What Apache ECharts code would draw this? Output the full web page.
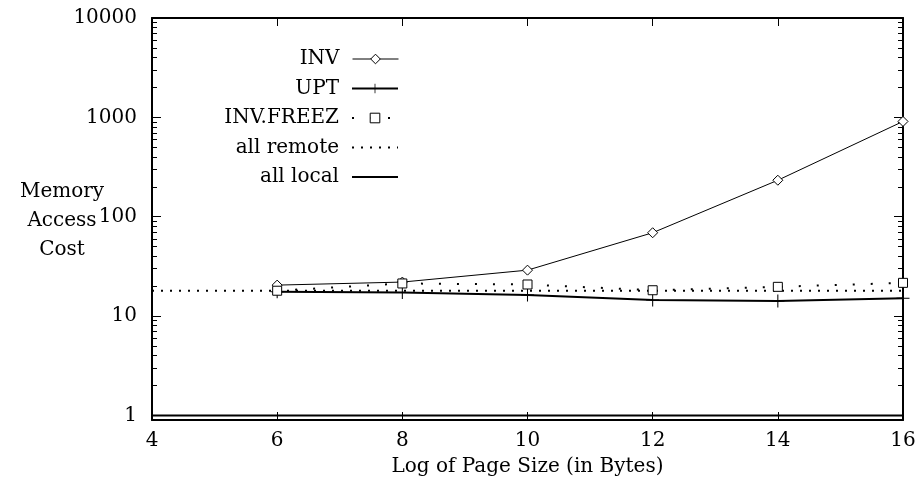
<!DOCTYPE html>
<html>
<head>
<meta charset="utf-8">
<script src="https://cdn.jsdelivr.net/npm/echarts@6/dist/echarts.min.js"></script>
<style>
  html, body { margin: 0; padding: 0; background: #fff; }
  #chart { width: 920px; height: 497px; }
</style>
</head>
<body>
<div id="chart"></div>
<script>
// Page size (log2 bytes) on x, memory access cost on a log y axis
const pageSizes = [6, 8, 10, 12, 14, 16];
const invCost = [20.5, 22, 29, 69, 233, 910];
const uptCost = [17.6, 17.3, 16.3, 14.5, 14.2, 15.1];
const freezCost = [18, 21.3, 20.8, 18.2, 19.7, 21.6];

// reference lines span the whole x range
const refX = [4, 16];
const allRemote = [18, 18];
const allLocal = [1, 1];

const yMajor = [1, 10, 100, 1000, 10000];
const yMinor = [];
for (const decade of [1, 10, 100, 1000]) {
  for (let m = 2; m <= 9; m++) yMinor.push(m * decade);
}

const FONT = "DejaVu Serif";
const black = "#000";

const pair = (xs, ys) => xs.map((x, i) => [x, ys[i]]);

const plusPath = "path://M-0.08,-1h0.16v2h-0.16z M-1,-0.08h2v0.16h-2z";

const seriesNames = ["INV", "UPT", "INV.FREEZ", "all remote", "all local"];
const noMarker = ["all remote", "all local"];

// one legend per row so the icons line up while labels are right-aligned
const legendRows = seriesNames.map((name, i) => ({
  data: [noMarker.includes(name) ? { name, itemStyle: { opacity: 0 } } : name],
  right: 516,
  top: 44 + i * 29.5,
  align: "right",
  itemWidth: 46,
  itemHeight: 12,
  selectedMode: false,
  lineStyle: { width: name === "INV" ? 1 : 2 },
  itemStyle: { borderWidth: 1 },
  textStyle: { fontFamily: FONT, fontSize: 20, color: black, padding: [0, 8, 0, 0] },
}));

const yBase = {
  type: "log",
  min: 0.9,
  max: 10000,
  splitLine: { show: false },
  minorTick: { show: false },
};

const option = {
  animation: false,
  backgroundColor: "#fff",
  grid: { left: 152, right: 17, top: 18, bottom: 77 },
  legend: legendRows,
  xAxis: [
    {
      type: "value",
      min: 4,
      max: 16,
      interval: 2,
      name: "Log of Page Size (in Bytes)",
      nameLocation: "middle",
      nameGap: 37,
      nameTextStyle: { fontFamily: FONT, fontSize: 20, color: black },
      axisLine: { lineStyle: { color: black, width: 2 } },
      axisTick: { inside: true, length: 8, lineStyle: { color: black } },
      axisLabel: { fontFamily: FONT, fontSize: 20, color: black, margin: 11 },
      splitLine: { show: false },
    },
    {
      type: "value",
      position: "top",
      min: 4,
      max: 16,
      interval: 2,
      axisLine: { lineStyle: { color: black, width: 2 } },
      axisTick: { inside: true, length: 8, lineStyle: { color: black } },
      axisLabel: { show: false },
      splitLine: { show: false },
    },
  ],
  yAxis: [
    {
      ...yBase,
      position: "left",
      axisLine: { show: true, lineStyle: { color: black, width: 2 } },
      axisTick: { inside: true, length: 9, customValues: yMajor, lineStyle: { color: black } },
      axisLabel: {
        customValues: yMajor,
        fontFamily: FONT,
        fontSize: 20,
        color: black,
        margin: 15,
        formatter: (v) => String(Math.round(v)),
      },
    },
    {
      ...yBase,
      position: "left",
      axisLine: { show: false },
      axisTick: { inside: true, length: 5, customValues: yMinor, lineStyle: { color: black } },
      axisLabel: { show: false },
    },
    {
      ...yBase,
      position: "right",
      axisLine: { show: true, lineStyle: { color: black, width: 2 } },
      axisTick: { inside: true, length: 9, customValues: yMajor, lineStyle: { color: black } },
      axisLabel: { show: false },
    },
    {
      ...yBase,
      position: "right",
      axisLine: { show: false },
      axisTick: { inside: true, length: 5, customValues: yMinor, lineStyle: { color: black } },
      axisLabel: { show: false },
    },
  ],
  graphic: [
    {
      type: "text",
      x: 62,
      y: 221,
      style: {
        text: "Memory\nAccess\nCost",
        fontFamily: FONT,
        fontSize: 20,
        lineHeight: 29,
        fill: black,
        align: "center",
        verticalAlign: "middle",
      },
    },
  ],
  series: [
    {
      name: "INV",
      type: "line",
      data: pair(pageSizes, invCost),
      symbol: "diamond",
      symbolSize: 10,
      itemStyle: { color: "#fff", borderColor: black, borderWidth: 1 },
      lineStyle: { color: black, width: 1 },
      z: 5,
    },
    {
      name: "UPT",
      type: "line",
      data: pair(pageSizes, uptCost),
      symbol: plusPath,
      symbolSize: 13,
      itemStyle: { color: black },
      lineStyle: { color: black, width: 2 },
      z: 4,
    },
    {
      name: "INV.FREEZ",
      type: "line",
      data: pair(pageSizes, freezCost),
      symbol: "rect",
      symbolSize: 9,
      itemStyle: { color: "#fff", borderColor: black, borderWidth: 1 },
      lineStyle: { color: black, width: 2, type: [2, 16] },
      z: 6,
    },
    {
      name: "all remote",
      type: "line",
      data: pair(refX, allRemote),
      showSymbol: false,
      symbol: "none",
      itemStyle: { color: black },
      lineStyle: { color: black, width: 2, type: [2, 7] },
      z: 3,
    },
    {
      name: "all local",
      type: "line",
      data: pair(refX, allLocal),
      showSymbol: false,
      symbol: "none",
      itemStyle: { color: black },
      lineStyle: { color: black, width: 2 },
      z: 3,
    },
  ],
};

const chart = echarts.init(document.getElementById("chart"));
chart.setOption(option);
window.addEventListener("resize", () => chart.resize());
</script>
</body>
</html>
